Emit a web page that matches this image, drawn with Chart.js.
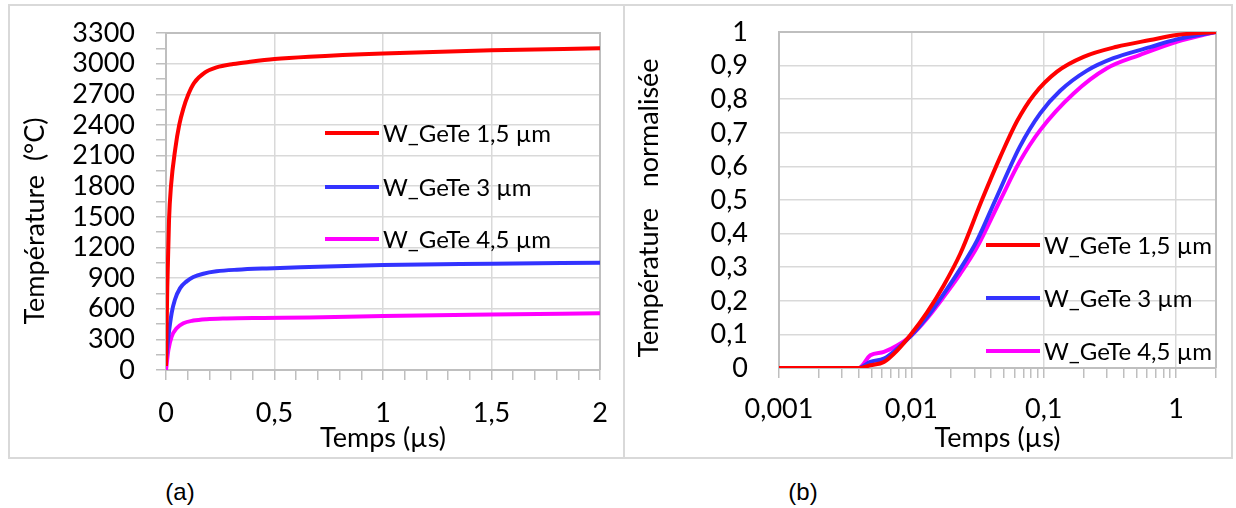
<!DOCTYPE html>
<html>
<head>
<meta charset="utf-8">
<script src="https://cdn.jsdelivr.net/npm/chart.js@4.4.0/dist/chart.umd.min.js"></script>
<style>
  body { margin: 0; background: #fff; width: 1236px; height: 508px; position: relative; overflow: hidden; }
  #frame { position: absolute; left: 8px; top: 4px; width: 1221px; height: 451px; border: 2px solid #d9d9d9; }
  #divider { position: absolute; left: 623px; top: 4px; width: 2px; height: 455px; background: #d9d9d9; }
  .box { position: absolute; top: 7px; }
  .caption { position: absolute; top: 478px; line-height: 28px; font-size: 24px; font-family: "Liberation Sans", Arial, sans-serif; transform: translateX(-50%); }
</style>
</head>
<body>
<div id="frame"></div>
<div id="divider"></div>
<div class="box" style="left:10px"><canvas id="chartA" width="612" height="450"></canvas></div>
<div class="box" style="left:626px"><canvas id="chartB" width="604" height="450"></canvas></div>
<div class="caption" style="left:180px">(a)</div>
<div class="caption" style="left:803px">(b)</div>
<script>
// series labels and colours
const seriesNames = ["W_GeTe 1,5 µm", "W_GeTe 3 µm", "W_GeTe 4,5 µm"];
const seriesColors = ["#ff0000", "#3333ff", "#ff00ff"];

// (a) temperature vs time, linear axes
const tRedA = [0, 0.006, 0.014, 0.023, 0.043, 0.061, 0.08, 0.103, 0.129, 0.18, 0.233, 0.31, 0.387, 0.5, 0.66, 1.0, 1.5, 2.0];
const vRedA = [40, 818, 1473, 1800, 2170, 2400, 2560, 2700, 2810, 2914, 2963, 2996, 3018, 3045, 3068, 3100, 3130, 3150];
const tBlueA = [0, 0.011, 0.026, 0.041, 0.065, 0.095, 0.126, 0.172, 0.233, 0.326, 0.464, 0.66, 1.0, 1.5, 2.0];
const vBlueA = [100, 327, 557, 688, 802, 868, 910, 943, 966, 982, 995, 1008, 1028, 1040, 1050];
const tMagA = [0, 0.011, 0.026, 0.049, 0.08, 0.126, 0.187, 0.28, 0.45, 0.66, 1.0, 1.5, 2.0];
const vMagA = [0, 196, 327, 409, 458, 484, 498, 505, 510, 515, 529, 543, 555];

// (b) normalised temperature vs time, log time axis
const tRedB = [0.001, 0.002, 0.003, 0.004, 0.0049, 0.0062, 0.0078, 0.01, 0.0131, 0.0175, 0.0234, 0.0341, 0.047, 0.0629, 0.0838, 0.126, 0.2, 0.356, 0.636, 1.01, 2];
const vRedB = [0, 0, 0, 0, 0.008, 0.018, 0.052, 0.102, 0.165, 0.245, 0.34, 0.5, 0.629, 0.735, 0.812, 0.882, 0.926, 0.956, 0.976, 0.991, 1];
const tBlueB = [0.001, 0.002, 0.003, 0.004, 0.0049, 0.0062, 0.0078, 0.01, 0.0131, 0.0175, 0.0234, 0.0313, 0.0431, 0.066, 0.094, 0.133, 0.212, 0.336, 0.636, 1.01, 2];
const vBlueB = [0, 0, 0, 0, 0.018, 0.028, 0.057, 0.097, 0.151, 0.22, 0.295, 0.379, 0.5, 0.659, 0.758, 0.825, 0.885, 0.922, 0.955, 0.978, 1];
const tMagB = [0.001, 0.002, 0.003, 0.004, 0.0049, 0.0062, 0.0078, 0.01, 0.0131, 0.0175, 0.0234, 0.0313, 0.047, 0.066, 0.094, 0.168, 0.3, 0.535, 1.01, 2];
const vMagB = [0, 0, 0, 0, 0.038, 0.048, 0.067, 0.097, 0.147, 0.211, 0.28, 0.359, 0.5, 0.615, 0.708, 0.817, 0.892, 0.932, 0.971, 1];

const FONT = "Lato";
const GRID = "#d9d9d9";
const AXIS = "#bfbfbf";
const NONE = "rgba(0,0,0,0)";

function pts(ts, vs) {
  return ts.map((t, i) => ({ x: t, y: vs[i] }));
}

function fmt(v) {
  return String(Number(v.toFixed(4))).replace(".", ",");
}

function isDecade(v) {
  const l = Math.log10(v);
  return Math.abs(l - Math.round(l)) < 1e-9;
}

function makeSets(pairs) {
  return pairs.map((p, i) => ({
    label: seriesNames[i],
    data: pts(p[0], p[1]),
    borderColor: seriesColors[i],
    borderWidth: 4,
    pointRadius: 0,
    cubicInterpolationMode: "monotone",
    fill: false
  }));
}

// keep the plot area exactly where layout.padding puts it
function noPad(s) {
  s.paddingTop = 0;
  s.paddingBottom = 0;
  s.paddingLeft = 0;
  s.paddingRight = 0;
}

// top/right border of the plot area
const plotBox = {
  id: "plotBox",
  beforeDatasetsDraw(chart) {
    const a = chart.chartArea;
    const ctx = chart.ctx;
    ctx.save();
    ctx.strokeStyle = AXIS;
    ctx.lineWidth = 2;
    ctx.beginPath();
    ctx.moveTo(a.left, a.top);
    ctx.lineTo(a.right, a.top);
    ctx.lineTo(a.right, a.bottom);
    ctx.stroke();
    ctx.restore();
  }
};

// legend drawn inside the plot
const innerLegend = {
  id: "innerLegend",
  afterDatasetsDraw(chart, args, opts) {
    const ctx = chart.ctx;
    ctx.save();
    ctx.font = opts.size + "px " + FONT;
    ctx.textBaseline = "middle";
    ctx.fillStyle = "#000";
    chart.data.datasets.forEach((ds, i) => {
      const y = opts.rows[i];
      ctx.strokeStyle = ds.borderColor;
      ctx.lineWidth = 4;
      ctx.beginPath();
      ctx.moveTo(opts.x0, y);
      ctx.lineTo(opts.x1, y);
      ctx.stroke();
      ctx.fillText(ds.label, opts.tx, y + 1);
    });
    ctx.restore();
  }
};

// vertical axis title, placed like the original (a bit below the plot centre)
const yTitle = {
  id: "yTitle",
  afterDraw(chart, args, opts) {
    const ctx = chart.ctx;
    ctx.save();
    ctx.translate(opts.x, opts.y);
    ctx.rotate(-Math.PI / 2);
    ctx.font = opts.size + "px " + FONT;
    ctx.fillStyle = "#000";
    ctx.textAlign = "center";
    ctx.textBaseline = "middle";
    ctx.fillText(opts.text, 0, 0);
    ctx.restore();
  }
};

const tickFont = { family: FONT, size: 27 };
const titleFont = { family: FONT, size: 27 };

function initCharts() {
  new Chart(document.getElementById("chartA").getContext("2d"), {
    type: "line",
    data: { datasets: makeSets([[tRedA, vRedA], [tBlueA, vBlueA], [tMagA, vMagA]]) },
    plugins: [plotBox, innerLegend, yTitle],
    options: {
      responsive: false,
      animation: false,
      layout: { padding: { top: 26, right: 22, left: 0, bottom: 0 } },
      plugins: {
        legend: { display: false },
        tooltip: { enabled: false },
        innerLegend: { x0: 315, x1: 369, tx: 373, rows: [126, 180, 232], size: 24 },
        yTitle: { text: "Température  (°C)", x: 25, y: 214, size: 27 }
      },
      scales: {
        x: {
          type: "linear",
          min: 0,
          max: 2,
          ticks: {
            stepSize: 0.1,
            autoSkip: false,
            maxRotation: 0,
            padding: 17,
            color: "#000",
            font: tickFont,
            callback: v => (Math.round(v * 10) % 5 === 0 ? fmt(v) : "")
          },
          grid: {
            color: c => (c.tick && Math.round(c.tick.value * 10) % 5 === 0 ? GRID : NONE),
            lineWidth: 1.5,
            tickColor: AXIS,
            tickLength: 10
          },
          border: { color: AXIS, width: 2 },
          title: { display: true, text: "Temps (µs)", color: "#000", font: titleFont, padding: { top: 0, bottom: 3 } },
          afterFit: s => { noPad(s); s.height = 87; }
        },
        y: {
          min: 0,
          max: 3300,
          ticks: {
            stepSize: 150,
            autoSkip: false,
            padding: 21,
            color: "#000",
            font: tickFont,
            callback: v => (v % 300 === 0 ? String(v) : "")
          },
          grid: {
            color: c => (c.tick && c.tick.value % 300 === 0 ? GRID : NONE),
            lineWidth: 1.5,
            tickColor: AXIS,
            tickLength: 10
          },
          border: { color: AXIS, width: 2 },
          afterFit: s => { noPad(s); s.width = 156; }
        }
      }
    }
  });

  new Chart(document.getElementById("chartB").getContext("2d"), {
    type: "line",
    data: { datasets: makeSets([[tRedB, vRedB], [tBlueB, vBlueB], [tMagB, vMagB]]) },
    plugins: [plotBox, innerLegend, yTitle],
    options: {
      responsive: false,
      animation: false,
      layout: { padding: { top: 25, right: 14, left: 0, bottom: 0 } },
      plugins: {
        legend: { display: false },
        tooltip: { enabled: false },
        innerLegend: { x0: 360, x1: 414, tx: 418, rows: [238, 291, 344], size: 24 },
        yTitle: { text: "Température   normalisée", x: 23, y: 201, size: 27 }
      },
      scales: {
        x: {
          type: "logarithmic",
          min: 0.001,
          max: 2,
          afterBuildTicks: s => {
            const list = [];
            for (let e = -3; e <= 0; e++) {
              for (let m = 1; m <= 9; m++) {
                const v = Number((m * Math.pow(10, e)).toPrecision(3));
                if (v <= 2) list.push({ value: v, major: m === 1 });
              }
            }
            s.ticks = list;
          },
          ticks: {
            autoSkip: false,
            maxRotation: 0,
            padding: 15,
            color: "#000",
            font: tickFont,
            callback: v => (isDecade(v) ? fmt(v) : "")
          },
          grid: {
            color: c => (c.tick && isDecade(c.tick.value) ? GRID : NONE),
            lineWidth: 1.5,
            tickColor: AXIS,
            tickLength: 10
          },
          border: { color: AXIS, width: 2 },
          title: { display: true, text: "Temps (µs)", color: "#000", font: titleFont, padding: { top: 0, bottom: 3 } },
          afterFit: s => { noPad(s); s.height = 89; }
        },
        y: {
          min: 0,
          max: 1,
          ticks: {
            stepSize: 0.1,
            autoSkip: false,
            padding: 31,
            color: "#000",
            font: tickFont,
            callback: v => fmt(v)
          },
          grid: { color: GRID, lineWidth: 1.5, drawTicks: false },
          border: { color: AXIS, width: 2 },
          afterFit: s => { noPad(s); s.width = 153; }
        }
      }
    }
  });
}

document.fonts.load("27px Lato").then(initCharts, initCharts);
</script>
</body>
</html>
